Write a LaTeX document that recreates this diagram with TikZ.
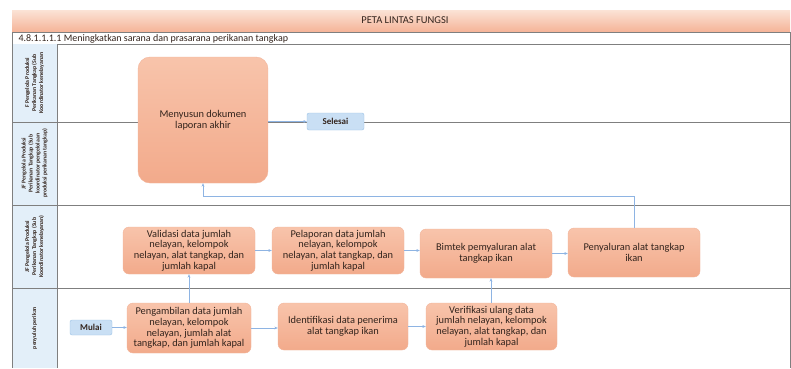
\documentclass[tikz,border=0pt]{standalone}
\usepackage{fontspec}
\setmainfont{Carlito}
\usetikzlibrary{arrows.meta,calc}

\definecolor{hdrtop}{HTML}{FBE3D6}
\definecolor{hdrbot}{HTML}{F5B397}
\definecolor{boxtop}{HTML}{F8C4AB}
\definecolor{boxbot}{HTML}{F2AA8B}
\definecolor{boxline}{HTML}{F2B59B}
\definecolor{termfill}{HTML}{C9DFF4}
\definecolor{termline}{HTML}{9DC3E6}
\definecolor{lanefill}{HTML}{E3EFF9}
\definecolor{laneline}{HTML}{7F7F7F}
\definecolor{flow}{HTML}{8EB4E3}
\definecolor{txt}{HTML}{33241D}

\tikzset{
  x=1pt, y=-1pt,
  procbox/.style={rounded corners=6pt, top color=boxtop, bottom color=boxbot,
    draw=boxline, line width=0.4pt, align=center, text=txt,
    font=\fontsize{10.4}{10.8}\selectfont, inner sep=0pt},
  termbox/.style={rounded corners=2pt, fill=termfill, draw=termline,
    line width=0.4pt, align=center, text=txt,
    font=\bfseries\fontsize{9}{10}\selectfont, inner sep=0pt},
  lanetext/.style={rotate=90, align=center, text=txt,
    font=\bfseries\fontsize{5.8}{7}\selectfont, inner sep=0pt},
  laneedge/.style={draw=laneline, line width=0.7pt},
  flowline/.style={draw=flow, line width=0.5pt, -{Stealth[length=3.5pt,width=2.8pt]}},
}

\begin{document}
\begin{tikzpicture}
\useasboundingbox (0,0) rectangle (791,368);
\fill[white] (0,0) rectangle (791,368);

% title band
\shade[top color=hdrtop, bottom color=hdrbot] (12,10) rectangle (790,32);
\node[font=\fontsize{10.5}{12}\selectfont, text=txt] (title) at (405,20) {PETA LINTAS FUNGSI};

% sub-process heading
\draw[laneedge, fill=white] (12,32) rectangle (790,44);
\node[anchor=west, font=\fontsize{10}{11}\selectfont, text=txt] (sub) at (15,38.5)
  {4.8.1.1.1.1 Meningkatkan sarana dan prasarana perikanan tangkap};

% swimlane label column and lanes
\fill[lanefill] (12,44) rectangle (57,368);
\draw[laneedge] (12,44) -- (12,368);
\draw[laneedge] (57,44) -- (57,368);
\draw[laneedge] (790,44) -- (790,368);
\draw[laneedge] (12,122) -- (790,122);
\draw[laneedge] (12,205) -- (790,205);
\draw[laneedge] (12,288) -- (790,288);

\node[lanetext] (lane1) at (34.5,83)
  {F Pengelola Produksi\\Perikanan Tangkap (Sub\\Koordinator kenelayanan};
\node[lanetext] (lane2) at (34.5,163.5)
  {JF Pengelola Produksi\\Perikanan Tangkap (Sub\\koordinator pengelolaan\\produksi perikanan tangkap)};
\node[lanetext] (lane3) at (34.5,246.5)
  {JF Pengelola Produksi\\Perikanan Tangkap (Sub\\Koordinator kenelayanan)};
\node[lanetext] (lane4) at (34.5,328)
  {penyuluh perikan};

% process steps
\node[procbox, rounded corners=12pt, minimum width=130pt, minimum height=126pt] (menyusun) at (203,120)
  {Menyusun dokumen\\laporan akhir};
\node[termbox, minimum width=57pt, minimum height=17pt] (selesai) at (335.5,121.5) {Selesai};

\node[procbox, minimum width=132pt, minimum height=47pt] (validasi) at (189,250.5)
  {Validasi data jumlah\\nelayan, kelompok\\nelayan, alat tangkap, dan\\jumlah kapal};
\node[procbox, minimum width=132pt, minimum height=47pt] (pelaporan) at (338,250.5)
  {Pelaporan data jumlah\\nelayan, kelompok\\nelayan, alat tangkap, dan\\jumlah kapal};
\node[procbox, minimum width=132pt, minimum height=49pt] (bimtek) at (486,253.5)
  {Bimtek pemyaluran alat\\tangkap ikan};
\node[procbox, minimum width=132pt, minimum height=49pt] (penyaluran) at (634,252.5)
  {Penyaluran alat tangkap\\ikan};

\node[termbox, minimum width=42pt, minimum height=15pt] (mulai) at (91,327.5) {Mulai};
\node[procbox, minimum width=124pt, minimum height=50pt] (pengambilan) at (189,328)
  {Pengambilan data jumlah\\nelayan, kelompok\\nelayan, jumlah alat\\tangkap, dan jumlah kapal};
\node[procbox, minimum width=130pt, minimum height=47pt] (identifikasi) at (343,326.5)
  {Identifikasi data penerima\\alat tangkap ikan};
\node[procbox, minimum width=131pt, minimum height=47pt] (verifikasi) at (491.5,326.5)
  {Verifikasi ulang data\\jumlah nelayan, kelompok\\nelayan, alat tangkap, dan\\jumlah kapal};

% connectors
\draw[flowline] (mulai.east) -- (mulai.east -| pengambilan.west);
\draw[flowline] (pengambilan.east) -- (pengambilan.east -| identifikasi.west);
\draw[flowline] (identifikasi.east) -- (identifikasi.east -| verifikasi.west);
\draw[flowline] (verifikasi.north -| 491,0) -- (bimtek.south -| 491,0);
\draw[flowline] (pengambilan.north) -- (validasi.south);
\draw[flowline] (validasi.east) -- (validasi.east -| pelaporan.west);
\draw[flowline] (pelaporan.east) -- (pelaporan.east -| bimtek.west);
\draw[flowline] (bimtek.east) -- (bimtek.east -| penyaluran.west);
\draw[flowline] (penyaluran.north) -- ++(0,-32) -| (menyusun.south);
\draw[flowline] (menyusun.east |- selesai.west) -- (selesai.west);
\end{tikzpicture}
\end{document}
